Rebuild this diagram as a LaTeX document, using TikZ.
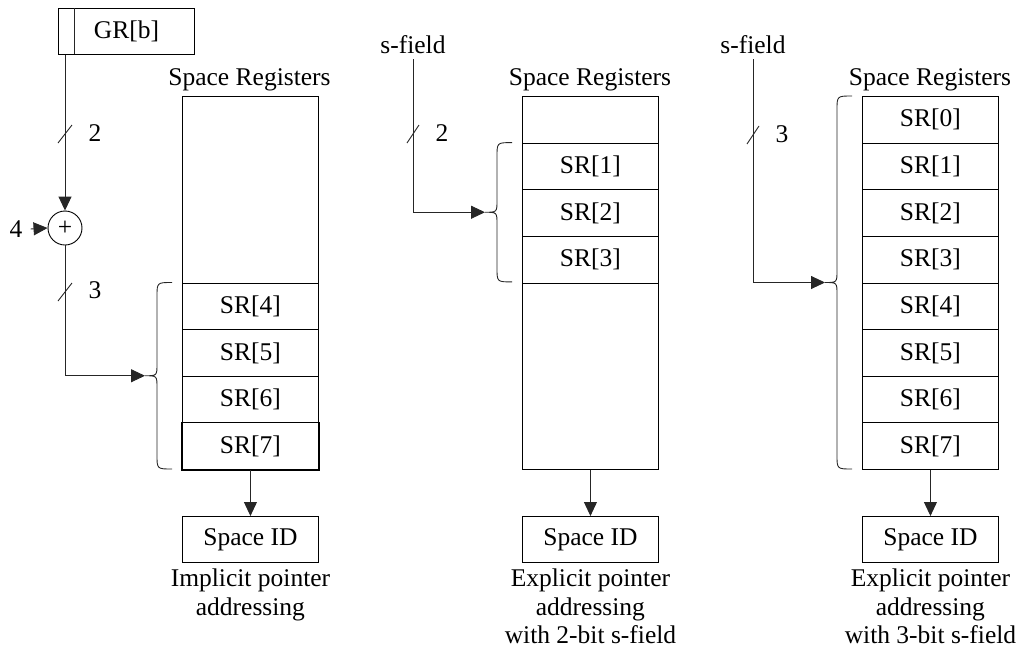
\documentclass[tikz,border=0pt]{standalone}
\usepackage{fontspec}
\setmainfont{Liberation Serif}
\usetikzlibrary{arrows.meta,calc}

% curly brace opening to the right: column left x, top y, bottom y
\newcommand\regbrace[3]{%
  \draw[wire] ({#1-10},{#2}) .. controls ({#1-25},{#2}) .. ({#1-25},{#2+14})
    -- ({#1-25},{(#2+#3)/2-12}) .. controls ({#1-25},{(#2+#3)/2}) .. ({#1-37},{(#2+#3)/2})
    .. controls ({#1-25},{(#2+#3)/2}) .. ({#1-25},{(#2+#3)/2+12})
    -- ({#1-25},{#3-14}) .. controls ({#1-25},{#3}) .. ({#1-10},{#3});}

\begin{document}
\begin{tikzpicture}[x=1pt,y=-1pt,
  font=\fontsize{25.5}{28.5}\selectfont,
  wire/.style={line width=0.9pt, draw=black!85},
  arr/.style={wire, -{Triangle[length=14pt,width=13pt]}},
  frame/.style={draw, line width=0.9pt, minimum width=136pt, minimum height=373pt,
                inner sep=0pt, anchor=north west},
  cell/.style={draw, line width=0.9pt, minimum width=136pt, minimum height=46.625pt,
               inner sep=0pt, anchor=north west},
  idbox/.style={draw, line width=0.9pt, minimum width=136pt, minimum height=46pt,
                inner sep=0pt, anchor=north west},
  title/.style={anchor=base, inner sep=0pt},
  caption/.style={anchor=north, align=center, inner sep=0pt},
  slash/.style={wire},
  width/.style={inner sep=0pt}
]
\useasboundingbox (0,0) rectangle (1021,654);

% ---------- implicit pointer addressing ----------
\node[idbox] (gr) at (58,8) {GR[b]};
\draw[wire] (74,8) -- (74,54);
\node[draw, circle, line width=0.9pt, minimum size=34pt, inner sep=0pt] (add) at (65,228) {+};
\node[inner sep=0pt] (four) at (16,229) {4};
\draw[arr] ($(four.east)+(8,0)$) -- (add.west);
\draw[arr] (gr.south west -| add) -- (add.north);
\draw[slash] (58,143) -- (72,125);
\node[width] (wa) at (95,133) {2};
\draw[slash] (58,301) -- (72,283);
\node[width] (wb) at (95,290) {3};

\node[frame] (colA) at (182,96) {};
\node[title] (titA) at (249.5,85) {Space Registers};
\foreach \i in {4,...,7}
  \node[cell] (a\i) at (182,{96+46.625*\i}) {SR[\i]};
\draw[line width=1.5pt] (a7.north west) rectangle (a7.south east);
\regbrace{182}{282.5}{469}
\coordinate (tipA) at (145,375.75);
\draw[arr] (add.south) |- (tipA);

\node[idbox] (idA) at (182,516) {Space ID};
\draw[arr] (colA.south) -- (idA.north);
\node[caption] (capA) at ($(idA.south)+(0,6)$) {Implicit pointer\\addressing};

% ---------- explicit pointer, 2-bit s-field ----------
\node[title] (sfB) at (413,53) {s-field};
\node[frame] (colB) at (522,96) {};
\node[title] (titB) at (590,85) {Space Registers};
\foreach \i in {1,...,3}
  \node[cell] (b\i) at (522,{96+46.625*\i}) {SR[\i]};
\regbrace{522}{142.6}{281.9}
\coordinate (tipB) at (485,212.25);
\draw[arr] ($(sfB.south)+(0,6)$) |- (tipB);
\draw[slash] (407,143) -- (419,125);
\node[width] (wc) at (442,133) {2};

\node[idbox] (idB) at (522,516) {Space ID};
\draw[arr] (colB.south) -- (idB.north);
\node[caption] (capB) at ($(idB.south)+(0,6)$) {Explicit pointer\\addressing\\with 2-bit s-field};

% ---------- explicit pointer, 3-bit s-field ----------
\node[title] (sfC) at (753,53) {s-field};
\node[frame] (colC) at (862,96) {};
\node[title] (titC) at (930,85) {Space Registers};
\foreach \i in {0,...,7}
  \node[cell] (c\i) at (862,{96+46.625*\i}) {SR[\i]};
\regbrace{862}{96}{469}
\coordinate (tipC) at (825,282.5);
\draw[arr] ($(sfC.south)+(0,6)$) |- (tipC);
\draw[slash] (747,144) -- (759,126);
\node[width] (wd) at (782,134) {3};

\node[idbox] (idC) at (862,516) {Space ID};
\draw[arr] (colC.south) -- (idC.north);
\node[caption] (capC) at ($(idC.south)+(0,6)$) {Explicit pointer\\addressing\\with 3-bit s-field};
\end{tikzpicture}
\end{document}
